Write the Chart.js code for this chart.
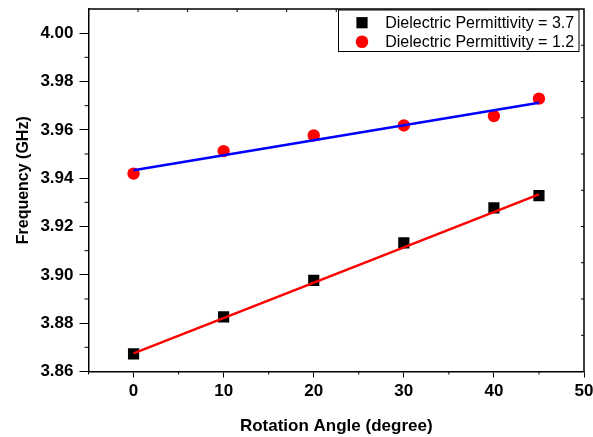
<!DOCTYPE html>
<html>
<head>
<meta charset="utf-8">
<script src="https://cdn.jsdelivr.net/npm/chart.js@4.4.1/dist/chart.umd.min.js"></script>
<style>
html,body{margin:0;padding:0;background:#fff;}
#wrap{width:593px;height:437px;position:relative;}
</style>
</head>
<body>
<div id="wrap"><canvas id="c" width="593" height="437"></canvas></div>
<script>
// ---- data ----
const xTicks = [0, 10, 20, 30, 40, 50];
const yTicks = [3.86, 3.88, 3.90, 3.92, 3.94, 3.96, 3.98, 4.00];
const angles = [0, 10, 20, 30, 40, 45];
const freq37 = [3.8673, 3.8826, 3.8977, 3.9132, 3.9277, 3.9328];
const freq12 = [3.9419, 3.9512, 3.9577, 3.9618, 3.9657, 3.9729];
const fitAngles = [0, 45];
const fit37 = [3.8675, 3.9333];
const fit12 = [3.9433, 3.9712];
const seriesLabels = ['Dielectric Permittivity = 3.7', 'Dielectric Permittivity = 1.2'];
const xTitle = 'Rotation Angle (degree)';
const yTitle = 'Frequency (GHz)';

const pts = (xs, ys) => xs.map((x, i) => ({x: x, y: ys[i]}));

const FONT = "'Liberation Sans', Arial, sans-serif";

const extras = {
  id: 'extras',
  afterDraw(chart) {
    const ctx = chart.ctx;
    const a = chart.chartArea;
    const xs = chart.scales.x, ys = chart.scales.y;
    ctx.save();
    ctx.strokeStyle = '#000';
    ctx.lineWidth = 1.5;
    // top & right frame
    ctx.beginPath();
    ctx.moveTo(a.left, a.top); ctx.lineTo(a.right, a.top); ctx.lineTo(a.right, a.bottom);
    ctx.stroke();
    ctx.lineWidth = 1;
    ctx.beginPath();
    // inward ticks on top/right (10 divisions)
    for (let i = 1; i < 10; i++) {
      const px = a.left + i * (a.right - a.left) / 10;
      ctx.moveTo(px, a.top); ctx.lineTo(px, a.top + 3);
      const py = a.top + i * (a.bottom - a.top) / 10;
      ctx.moveTo(a.right, py); ctx.lineTo(a.right - 3, py);
    }
    // minor ticks
    for (let i = 0; i < yTicks.length - 1; i++) {
      const py = ys.getPixelForValue((yTicks[i] + yTicks[i + 1]) / 2);
      ctx.moveTo(a.left, py); ctx.lineTo(a.left - 4, py);
    }
    const xMinor = [xs.min];
    for (let i = 0; i < xTicks.length - 1; i++) xMinor.push((xTicks[i] + xTicks[i + 1]) / 2);
    xMinor.forEach(v => {
      const px = xs.getPixelForValue(v);
      ctx.moveTo(px, a.bottom); ctx.lineTo(px, a.bottom + 3);
    });
    ctx.stroke();

    // y title
    ctx.fillStyle = '#000';
    ctx.font = 'bold 16px ' + FONT;
    ctx.textAlign = 'center';
    ctx.textBaseline = 'middle';
    ctx.translate(24, (a.top + a.bottom) / 2 - 10);
    ctx.rotate(-Math.PI / 2);
    ctx.fillText(yTitle, 0, 0);
    ctx.restore();

    // legend
    ctx.save();
    const bx = a.right - 245.5, by = a.top + 1, bw = 240.5, bh = 41.5;
    ctx.fillStyle = '#fff';
    ctx.fillRect(bx, by, bw, bh);
    ctx.strokeStyle = '#000';
    ctx.lineWidth = 1;
    ctx.strokeRect(bx, by, bw, bh);
    ctx.font = '16px ' + FONT;
    ctx.textAlign = 'left';
    ctx.textBaseline = 'middle';
    const rows = [by + 12.7, by + 31.7];
    const ds = chart.data.datasets;
    [2, 3].forEach((di, r) => {
      const d = ds[di];
      ctx.fillStyle = d.backgroundColor;
      const mx = bx + 23.5, my = rows[r];
      if (d.pointStyle === 'rect') {
        ctx.fillRect(mx - 5.6, my - 5.6, 11.2, 11.2);
      } else {
        ctx.beginPath(); ctx.arc(mx, my, 6.3, 0, Math.PI * 2); ctx.fill();
      }
      ctx.fillStyle = '#000';
      ctx.fillText(d.label, bx + 46.7, my + 0.5);
    });
    ctx.restore();
  }
};

new Chart(document.getElementById('c'), {
  type: 'scatter',
  data: {
    datasets: [
      {type: 'line', label: 'fit37', data: pts(fitAngles, fit37), borderColor: '#ff0000', borderWidth: 2.5, pointRadius: 0, fill: false, order: 0},
      {type: 'line', label: 'fit12', data: pts(fitAngles, fit12), borderColor: '#0000ff', borderWidth: 2.5, pointRadius: 0, fill: false, order: 0},
      {label: seriesLabels[0], data: pts(angles, freq37), pointStyle: 'rect', pointRadius: 7.9, backgroundColor: '#000000', borderColor: '#000000', borderWidth: 0, order: 1},
      {label: seriesLabels[1], data: pts(angles, freq12), pointStyle: 'circle', pointRadius: 6.2, backgroundColor: '#ff0000', borderColor: '#ff0000', borderWidth: 0, order: 1}
    ]
  },
  options: {
    responsive: false,
    animation: false,
    devicePixelRatio: 1,
    layout: {padding: {left: 0, right: 9, top: 9, bottom: 0}},
    plugins: {legend: {display: false}, tooltip: {enabled: false}},
    scales: {
      x: {
        type: 'linear', min: -5, max: 50,
        afterBuildTicks: s => { s.ticks = xTicks.map(v => ({value: v})); },
        afterFit: s => { s.height = 65.5; s.paddingLeft = 0; s.paddingRight = 0; },
        grid: {display: true, drawOnChartArea: false, drawTicks: true, tickLength: 6, tickColor: '#000', tickWidth: 1},
        border: {display: true, color: '#000', width: 1.5},
        ticks: {color: '#000', font: {family: FONT, size: 17, weight: 'bold'}, padding: 4, maxRotation: 0},
        title: {display: true, text: xTitle, color: '#000', font: {family: FONT, size: 17, weight: 'bold'}, padding: {top: 0, bottom: 0}}
      },
      y: {
        type: 'linear', min: 3.86, max: 4.01,
        afterBuildTicks: s => { s.ticks = yTicks.map(v => ({value: v})); },
        afterFit: s => { s.width = 88.5; s.paddingTop = 0; s.paddingBottom = 0; },
        grid: {display: true, drawOnChartArea: false, drawTicks: true, tickLength: 9, tickColor: '#000', tickWidth: 1},
        border: {display: true, color: '#000', width: 1.5},
        ticks: {color: '#000', font: {family: FONT, size: 17, weight: 'bold'}, padding: 6, callback: v => v.toFixed(2)}
      }
    }
  },
  plugins: [extras]
});
</script>
</body>
</html>
